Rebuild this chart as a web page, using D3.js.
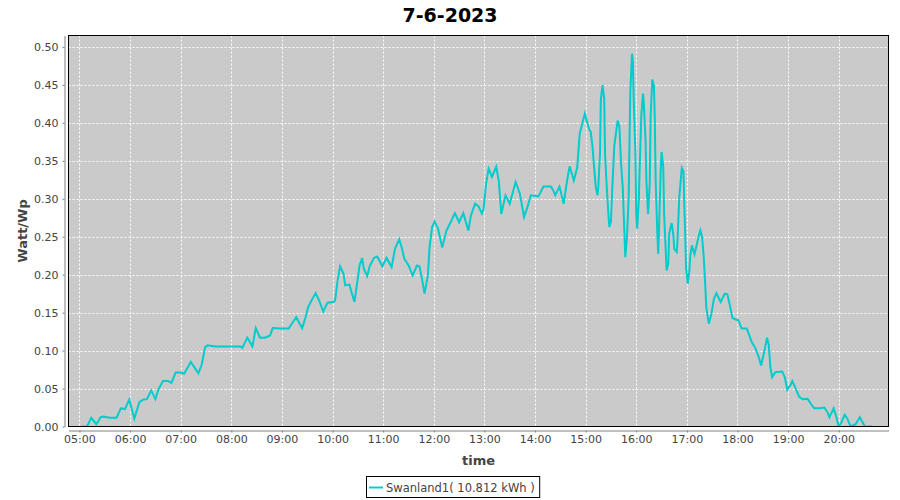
<!DOCTYPE html>
<html><head><meta charset="utf-8">
<script src="https://cdn.jsdelivr.net/npm/d3@7"></script>
<style>
body{margin:0;background:#fff;}
text{font-family:"DejaVu Sans",sans-serif;}
</style></head>
<body><svg id="c" width="900" height="500"></svg>
<script>
const title = "7-6-2023";
const seriesName = "Swanland1( 10.812 kWh )";
const xLabel = "time";
const yLabel = "Watt/Wp";
const xTickLabels = ["05:00","06:00","07:00","08:00","09:00","10:00","11:00","12:00","13:00","14:00","15:00","16:00","17:00","18:00","19:00","20:00"];
const yTickValues = [0,0.05,0.10,0.15,0.20,0.25,0.30,0.35,0.40,0.45,0.50];
const xDomain = ["04:47","20:59"];
const yDomain = [0, 0.515];

const times = [
"05:03","05:09","05:14","05:20","05:25","05:28","05:36","05:44","05:49","05:54","05:59",
"06:05","06:11","06:16","06:20","06:25","06:30","06:34","06:39","06:45","06:49","06:54",
"07:00","07:04","07:12","07:21","07:25","07:29","07:32","07:37","07:42",
"08:11","08:13","08:19","08:25","08:29","08:34","08:40","08:46","08:49","08:58",
"09:08","09:12","09:17","09:24","09:28","09:31","09:35","09:40","09:44","09:49","09:54",
"10:01","10:03","10:06","10:09","10:13","10:15","10:20","10:23","10:26","10:29","10:32","10:35","10:37","10:41","10:44","10:49","10:53","10:59",
"11:04","11:10","11:14","11:19","11:22","11:25","11:30","11:35","11:40","11:43","11:46","11:49","11:53","11:55","11:58",
"12:01","12:05","12:10","12:15","12:20","12:25","12:30","12:35","12:41","12:44","12:49","12:53","12:57","12:59",
"13:02","13:05","13:09","13:14","13:17","13:20","13:25","13:30","13:37","13:42","13:47","13:51","13:55",
"14:01","14:04","14:10","14:19","14:22","14:24","14:29","14:34","14:38","14:41","14:44","14:46","14:50","14:53","14:59",
"15:04","15:06","15:08","15:10","15:12","15:14","15:15","15:17","15:18","15:20","15:22","15:23","15:25","15:28","15:30",
"15:32","15:34","15:38","15:40","15:42","15:44","15:47","15:49","15:51","15:52","15:53","15:55","15:56","15:57","15:59",
"16:00","16:01","16:03","16:04","16:06","16:08","16:09","16:11","16:12","16:14","16:16","16:17","16:19","16:21","16:22",
"16:23","16:25","16:26","16:27","16:29","16:30","16:32","16:33","16:36","16:38","16:39","16:42","16:44","16:45","16:48",
"16:49","16:51","16:54","16:56","16:57","16:58","16:59",
"17:01","17:03","17:04","17:06","17:09","17:11","17:14","17:16","17:18","17:20","17:22","17:23","17:26","17:29","17:32",
"17:35","17:40","17:45","17:48","17:51","17:54","17:58",
"18:01","18:05","18:11","18:13","18:17","18:21","18:25","18:28","18:32","18:35","18:37","18:39","18:41","18:45","18:53",
"18:56","18:59",
"19:03","19:05","19:09","19:13","19:17","19:23","19:27","19:31","19:38","19:43","19:47","19:49","19:54","19:57",
"20:00","20:03","20:07","20:10","20:14","20:20","20:25","20:29","20:31","20:40"
];
const values = [
0,0,0.0115,0.003,0.012,0.013,0.0115,0.0115,0.024,0.023,0.0356,
0.0105,0.032,0.0356,0.036,0.0475,0.036,0.05,0.06,0.06,0.0575,0.071,
0.071,0.0695,0.085,0.070,0.082,0.1045,0.107,0.106,0.1055,
0.1055,0.1035,0.117,0.1055,0.1296,0.117,0.117,0.12,0.1296,0.129,
0.129,0.136,0.144,0.1296,0.144,0.157,0.166,0.1757,0.166,0.1516,0.163,
0.164,0.166,0.1925,0.211,0.201,0.186,0.187,0.175,0.164,0.188,0.212,0.222,0.208,0.198,0.211,0.222,0.224,0.211,
0.222,0.210,0.234,0.2465,0.236,0.221,0.2125,0.199,0.212,0.211,0.1947,0.175,0.199,0.2364,0.2627,
0.270,0.2606,0.2356,0.258,0.269,0.281,0.269,0.281,0.258,0.278,0.2935,0.290,0.2804,0.2865,
0.320,0.3397,0.3287,0.342,0.324,0.280,0.3045,0.2935,0.322,0.3067,0.276,0.289,0.3045,
0.3035,0.303,0.316,0.316,0.31,0.3045,0.316,0.2935,0.324,0.3427,0.332,0.324,0.341,0.386,0.412,
0.392,0.388,0.37,0.342,0.315,0.3045,0.315,0.3595,0.43,0.4495,0.432,0.3595,0.315,0.2627,0.27,
0.324,0.370,0.403,0.395,0.346,0.315,0.223,0.25,0.302,0.377,0.443,0.491,0.48,0.43,0.36,
0.280,0.2606,0.298,0.3375,0.41,0.4386,0.425,0.377,0.324,0.280,0.32,0.408,0.457,0.448,0.403,
0.324,0.254,0.2277,0.26,0.3375,0.3616,0.342,0.280,0.2056,0.215,0.254,0.268,0.252,0.234,0.23,
0.248,0.302,0.3405,0.336,0.289,0.254,0.210,
0.188,0.205,0.225,0.2386,0.227,0.236,0.2505,0.2584,0.250,0.223,0.1815,0.157,0.1354,0.148,0.168,
0.1757,0.164,0.175,0.174,0.1595,0.143,0.141,
0.140,0.129,0.129,0.123,0.111,0.1037,0.092,0.0804,0.100,0.117,0.108,0.078,0.065,0.0716,0.0725,
0.065,0.0484,
0.055,0.0597,0.050,0.0395,0.036,0.0365,0.030,0.024,0.024,0.025,0.018,0.0123,0.024,0.013,
0,0.005,0.0154,0.011,0,0.003,0.0123,0.004,0,0
];

const parse = d3.timeParse("%H:%M");
const data = times.map((t,i)=>({t:parse(t), v:values[i]}));

const L=68.5, R=888.5, T=35.5, B=426.5;
const svg = d3.select("#c");
const x = d3.scaleTime().domain(xDomain.map(parse)).range([L,R]);
const y = d3.scaleLinear().domain(yDomain).range([B,T]);

// title
svg.append("text").attr("x",450).attr("y",22).attr("text-anchor","middle")
  .attr("font-size",19).attr("font-weight","bold").attr("fill","#000").text(title);

// plot background
svg.append("rect").attr("x",L).attr("y",T).attr("width",R-L).attr("height",B-T).attr("fill","#cacaca");

// grid
const xt = xTickLabels.map(parse);
svg.append("g").selectAll("line").data(xt).join("line")
  .attr("x1",d=>Math.round(x(d))+0.5).attr("x2",d=>Math.round(x(d))+0.5)
  .attr("y1",T).attr("y2",B).attr("stroke","#fff").attr("stroke-dasharray","2,2");
svg.append("g").selectAll("line").data(yTickValues).join("line")
  .attr("y1",d=>Math.round(y(d))+0.5).attr("y2",d=>Math.round(y(d))+0.5)
  .attr("x1",L).attr("x2",R).attr("stroke","#fff").attr("stroke-dasharray","2,2");

// clip
svg.append("clipPath").attr("id","clip").append("rect").attr("x",L).attr("y",T).attr("width",R-L).attr("height",B-T);

// line
svg.append("path").datum(data).attr("clip-path","url(#clip)")
  .attr("fill","none").attr("stroke","#00cccc").attr("stroke-width",2)
  .attr("d", d3.line().x(d=>x(d.t)).y(d=>y(d.v)));

// border
svg.append("rect").attr("x",L).attr("y",T).attr("width",R-L).attr("height",B-T)
  .attr("fill","none").attr("stroke","#000").attr("stroke-width",1);

// axes
const yAxis = d3.axisLeft(y).tickValues(yTickValues).tickFormat(d3.format(".2f")).tickSizeInner(2).tickSizeOuter(0).tickPadding(4);
const gy = svg.append("g").attr("transform",`translate(${L-4},0)`).call(yAxis);
const xAxis = d3.axisBottom(x).tickValues(xt).tickFormat(d3.timeFormat("%H:%M")).tickSizeInner(2).tickSizeOuter(0).tickPadding(3);
const gx = svg.append("g").attr("transform",`translate(0,${B+4})`).call(xAxis);
[gx,gy].forEach(g=>{
  g.select(".domain").attr("stroke","#808080");
  g.selectAll(".tick line").attr("stroke","#808080");
  g.selectAll(".tick text").attr("fill","#444").attr("font-size",11).attr("font-family","DejaVu Sans");
});

// axis labels
svg.append("text").attr("x",(L+R)/2).attr("y",465).attr("text-anchor","middle")
  .attr("font-size",13).attr("font-weight","bold").attr("fill","#444").text(xLabel);
svg.append("text").attr("transform",`translate(27,${(T+B)/2}) rotate(-90)`).attr("text-anchor","middle")
  .attr("font-size",13).attr("font-weight","bold").attr("fill","#444").text(yLabel);

// legend
const lg = svg.append("g");
const lt = lg.append("text").attr("x",386).attr("y",491.5).attr("font-size",11.5).attr("fill","#444").text(seriesName);
const tw = lt.node().getComputedTextLength();
lg.insert("rect","text").attr("x",366.5).attr("y",476.5).attr("width",386+tw+5-366.5).attr("height",21)
  .attr("fill","#fff").attr("stroke","#000");
lg.append("line").attr("x1",369).attr("x2",383).attr("y1",487.5).attr("y2",487.5).attr("stroke","#00cccc").attr("stroke-width",2);
</script>
</body></html>
